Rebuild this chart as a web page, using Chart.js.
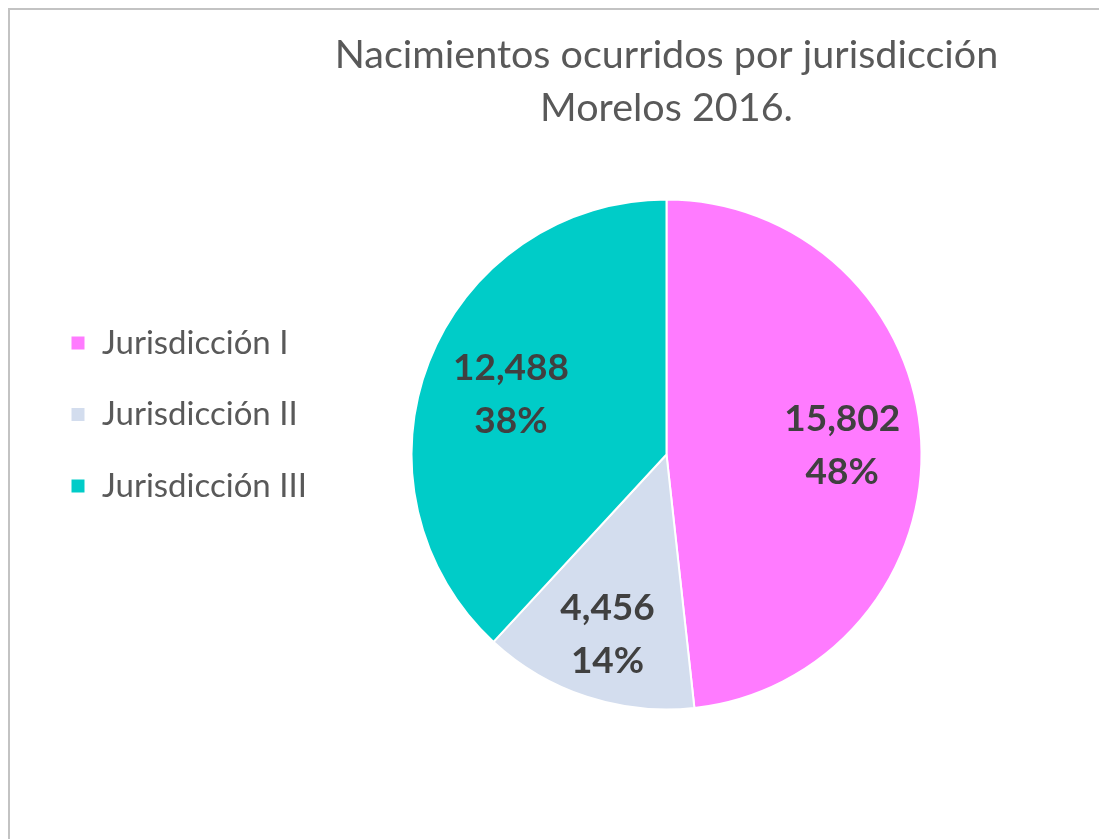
<!DOCTYPE html>
<html>
<head>
<meta charset="utf-8">
<script src="https://cdn.jsdelivr.net/npm/chart.js@4.4.1/dist/chart.umd.min.js"></script>
<style>
  html, body { margin: 0; padding: 0; background: #fff; overflow: hidden; width: 1099px; height: 839px; }
  #frame { position: absolute; left: 8px; top: 8px; width: 1091px; height: 831px; border-left: 2px solid #c3c3c3; border-top: 2px solid #c3c3c3; }
  #wrap { position: absolute; left: 0; top: 0; width: 1021px; height: 829px; }
</style>
</head>
<body>
<div id="frame"></div>
<div id="wrap"><canvas id="myChart" width="1021" height="829"></canvas></div>
<script>
var categories = ['Jurisdicción I', 'Jurisdicción II', 'Jurisdicción III'];
var births = [15802, 4456, 12488];
var sliceColors = ['#FF7BFF', '#D3DDEE', '#00CCC8'];
var titleLines = ['Nacimientos ocurridos por jurisdicción', 'Morelos 2016.'];

// value + percentage written inside each slice
var sliceLabels = {
    id: 'sliceLabels',
    afterDatasetsDraw: function(chart, args, opts) {
        var ctx = chart.ctx;
        var meta = chart.getDatasetMeta(0);
        var vals = chart.data.datasets[0].data;
        var total = vals.reduce(function(a, b) { return a + b; }, 0);
        ctx.save();
        ctx.font = 'bold 37px Lato';
        ctx.fillStyle = '#404040';
        ctx.textAlign = 'center';
        ctx.textBaseline = 'middle';
        meta.data.forEach(function(arc, i) {
            var p = arc.getProps(['x', 'y', 'startAngle', 'endAngle', 'outerRadius'], true);
            var mid = (p.startAngle + p.endAngle) / 2;
            var r = p.outerRadius * opts.offsets[i];
            var x = p.x + Math.cos(mid) * r;
            var y = p.y + Math.sin(mid) * r;
            ctx.fillText(vals[i].toLocaleString('en-US'), x, y - 26);
            ctx.fillText(Math.round(vals[i] / total * 100) + '%', x, y + 27);
        });
        ctx.restore();
    }
};

var ctx = document.getElementById('myChart').getContext('2d');
var myChart = new Chart(ctx, {
    type: 'pie',
    data: {
        labels: categories,
        datasets: [{
            data: births,
            backgroundColor: sliceColors,
            borderColor: '#ffffff',
            borderWidth: 2
        }]
    },
    options: {
        responsive: false,
        animation: false,
        radius: 255,
        layout: {
            padding: { left: 32, top: 0, right: 0, bottom: 0 }
        },
        plugins: {
            title: {
                display: true,
                fullSize: false,
                text: titleLines,
                color: '#595959',
                font: { family: 'Lato', size: 39.5, weight: 'normal', lineHeight: '53px' },
                padding: { top: 28.5, bottom: -54.5 }
            },
            legend: {
                position: 'left',
                maxWidth: 280,
                labels: {
                    color: '#595959',
                    font: { family: 'Lato', size: 33 },
                    boxWidth: 15,
                    boxHeight: 15,
                    padding: 38.5
                }
            },
            tooltip: { enabled: false },
            sliceLabels: { offsets: [0.69, 0.74, 0.655] }
        }
    },
    plugins: [sliceLabels]
});
</script>
</body>
</html>
